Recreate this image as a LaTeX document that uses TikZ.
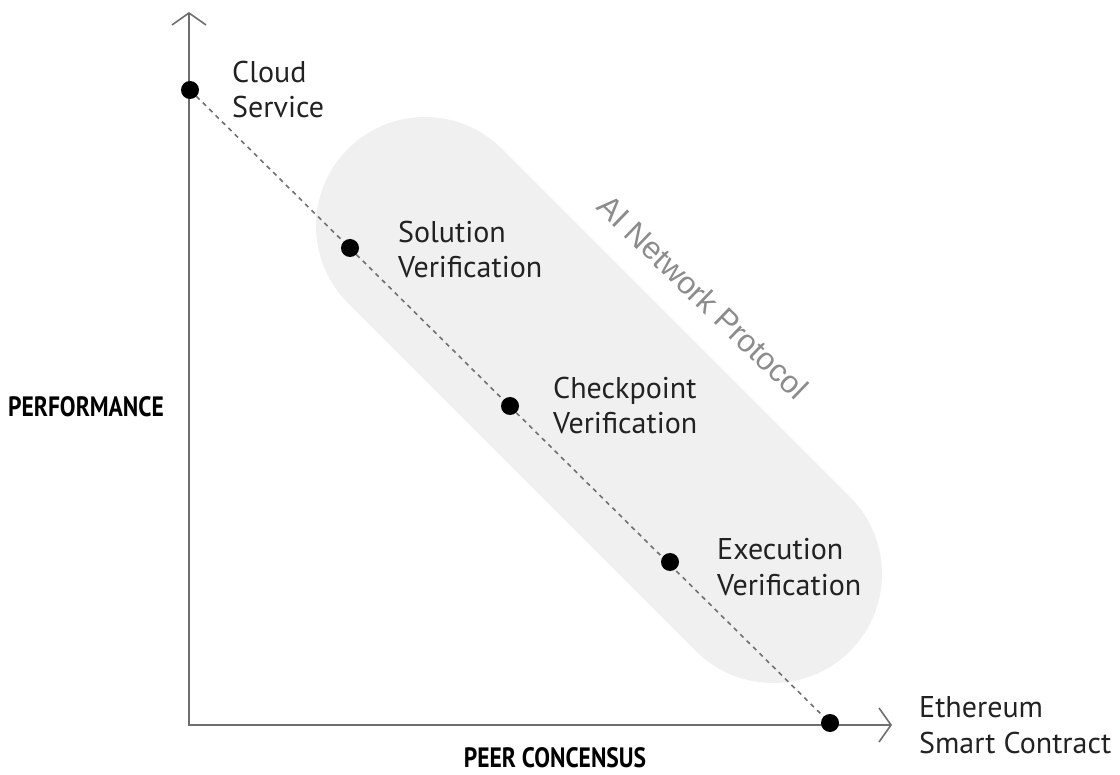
\documentclass[tikz,border=0pt]{standalone}
\usepackage{fontspec}
\setmainfont{PT Sans}
\newfontfamily\protofont{Liberation Sans}
\usetikzlibrary{arrows.meta}
\definecolor{axisgray}{HTML}{6E6E6E}
\definecolor{bandgray}{HTML}{F0F0F0}
\definecolor{textdark}{HTML}{222222}
\definecolor{protogray}{HTML}{8C8C8C}
\definecolor{dashgray}{HTML}{707070}
\begin{document}
\begin{tikzpicture}[x=1pt,y=-1pt,
  dot/.style={circle,fill=black,minimum size=18pt,inner sep=0pt},
  lbl/.style={anchor=base west,align=left,font=\fontsize{30}{35.5}\selectfont,text=textdark,inner sep=0pt},
  axis/.style={draw=axisgray,line width=2pt,
    {Straight Barb[length=12pt,width=34pt,line width=1.6pt]}-{Straight Barb[length=12pt,width=34pt,line width=1.6pt]}},
  axislabel/.style={font=\bfseries\fontsize{28}{30}\selectfont,text=black,inner sep=0pt},
  trend/.style={draw=dashgray,line width=1.6pt,dash pattern=on 4.5pt off 4.5pt}
]
\useasboundingbox (0,0) rectangle (1120,775);

% shaded band of the protocol region
\coordinate (bandA) at (425,226);
\coordinate (bandB) at (773,574);
\draw[bandgray,line width=218pt,line cap=round] (bandA) -- (bandB);

% axes
\coordinate (origin) at (189,725);
\coordinate (ytip) at (189,12);
\coordinate (xtip) at (892,725);
\draw[axis] (ytip) -- (origin) -- (xtip);

% trade-off points
\coordinate (p1) at (190,90);
\coordinate (p2) at (350,248);
\coordinate (p3) at (510,406);
\coordinate (p4) at (670,562);
\coordinate (p5) at (830,723);
\draw[trend] (p1) -- (p5);
\node[dot] (cloud) at (p1) {};
\node[dot] (solution) at (p2) {};
\node[dot] (checkpoint) at (p3) {};
\node[dot] (execution) at (p4) {};
\node[dot] (ethereum) at (p5) {};

% point labels (base anchor sits on the last line)
\node[lbl] (cloudtxt) at (232,118) {Cloud\\Service};
\node[lbl] (solutiontxt) at (398,278) {Solution\\Verification};
\node[lbl] (checkpointtxt) at (553,434) {Checkpoint\\Verification};
\node[lbl] (executiontxt) at (717,595) {Execution\\Verification};
\node[lbl] (ethereumtxt) at (919,753) {Ethereum\\Smart Contract};

% region label
\node[font=\protofont\fontsize{31.5}{32}\selectfont,text=protogray,rotate=-44,inner sep=0pt]
  (proto) at (703,297) {AI Network Protocol};

% axis titles
\node[axislabel] (perf) at (86,407) {\scalebox{0.84}[1]{PERFORMANCE}};
\node[axislabel] (peer) at (555,758) {\scalebox{0.84}[1]{PEER CONCENSUS}};
\end{tikzpicture}
\end{document}
